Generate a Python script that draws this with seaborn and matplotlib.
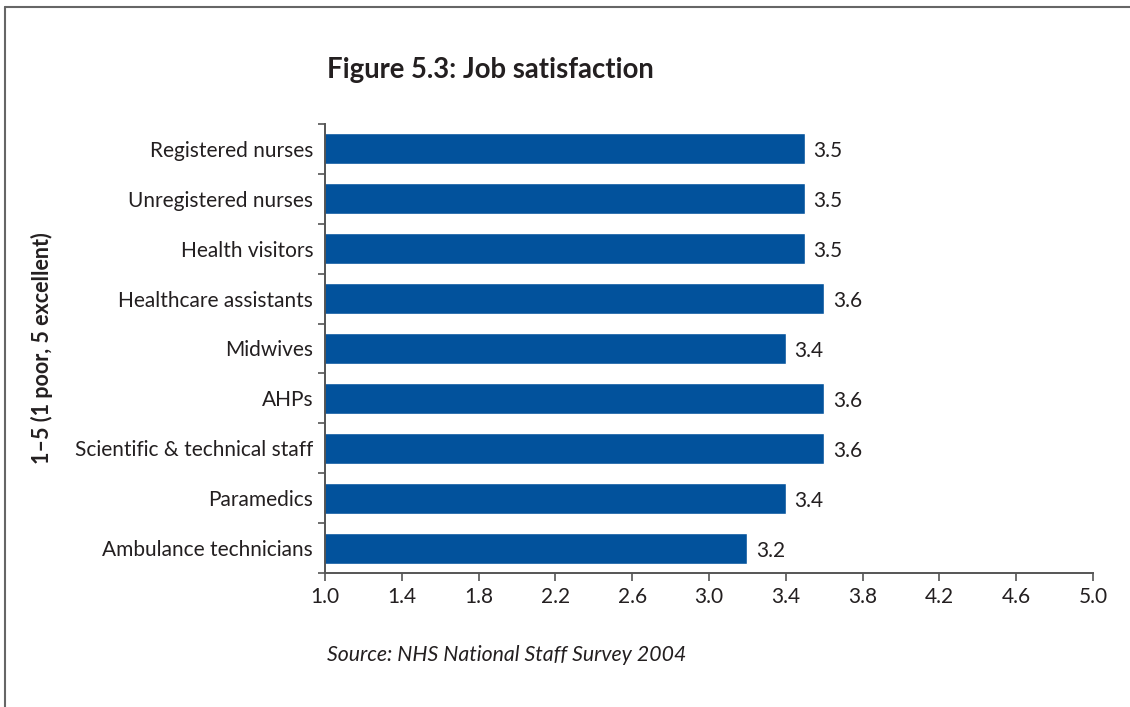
import matplotlib
matplotlib.use("Agg")
import matplotlib.pyplot as plt
from matplotlib.lines import Line2D
import numpy as np
import pandas as pd
import seaborn as sns

categories = [
    "Registered nurses",
    "Unregistered nurses",
    "Health visitors",
    "Healthcare assistants",
    "Midwives",
    "AHPs",
    "Scientific & technical staff",
    "Paramedics",
    "Ambulance technicians",
]
scores = [3.5, 3.5, 3.5, 3.6, 3.4, 3.6, 3.6, 3.4, 3.2]
x_ticks = [1.0, 1.4, 1.8, 2.2, 2.6, 3.0, 3.4, 3.8, 4.2, 4.6, 5.0]

title = "Figure 5.3: Job satisfaction"
y_title = "1\u20135 (1 poor, 5 excellent)"
source = "Source: NHS National Staff Survey 2004"

sns.set_theme(style="white")
plt.rcParams["font.family"] = ["Lato", "DejaVu Sans"]

bar_color = "#02529c"
text_color = "#231f20"
axis_color = "#555555"

df = pd.DataFrame({"group": categories, "score": scores})

fig = plt.figure(figsize=(11.30, 7.07), dpi=100)
ax = fig.add_axes([325 / 1130, 1 - 573 / 707, (1093 - 325) / 1130, (573 - 124) / 707])

sns.barplot(data=df, x="score", y="group", orient="h", color=bar_color,
            saturation=1, width=0.62, ax=ax)

ax.set_xlim(1.0, 5.0)
ax.set_ylim(len(categories) - 0.5, -0.5)
ax.set_xticks(x_ticks)
ax.set_xticklabels([f"{v:.1f}" for v in x_ticks], fontsize=15, color=text_color)
ax.set_yticks(range(len(categories)))
ax.set_yticklabels(categories, fontsize=15, color=text_color)
ax.set_yticks(np.arange(-0.5, len(categories), 1.0), minor=True)
ax.tick_params(axis="y", which="major", length=0, pad=8.5)
ax.tick_params(axis="y", which="minor", length=5, width=1.2, color=axis_color, left=True)
ax.tick_params(axis="x", which="major", length=6, width=1.2, color=axis_color,
               bottom=True, pad=4)
ax.set_xlabel("")
ax.set_ylabel("")

for side in ["top", "right"]:
    ax.spines[side].set_visible(False)
for side in ["left", "bottom"]:
    ax.spines[side].set_color(axis_color)
    ax.spines[side].set_linewidth(1.4)

for i, v in enumerate(scores):
    ax.text(v + 0.045, i + 0.05, f"{v:.1f}", va="center", ha="left",
            fontsize=15, color=text_color)

fig.text(327 / 1130, 1 - 70 / 707, title, fontsize=19.8, fontweight="bold",
         color=text_color, ha="left", va="center")
fig.text(42 / 1130, 1 - 348 / 707, y_title, fontsize=15.5, fontweight="bold",
         color=text_color, rotation=90, ha="center", va="center")
fig.text(327 / 1130, 1 - 655 / 707, source, fontsize=15.3, style="italic",
         color=text_color, ha="left", va="center")

# outer frame
fig.add_artist(Line2D([5 / 1130, 5 / 1130], [0, 1 - 7 / 707], transform=fig.transFigure,
                      color="#666666", linewidth=1.5))
fig.add_artist(Line2D([5 / 1130, 1], [1 - 7 / 707, 1 - 7 / 707], transform=fig.transFigure,
                      color="#666666", linewidth=1.5))

fig.savefig("out.png", dpi=100, facecolor="white")
